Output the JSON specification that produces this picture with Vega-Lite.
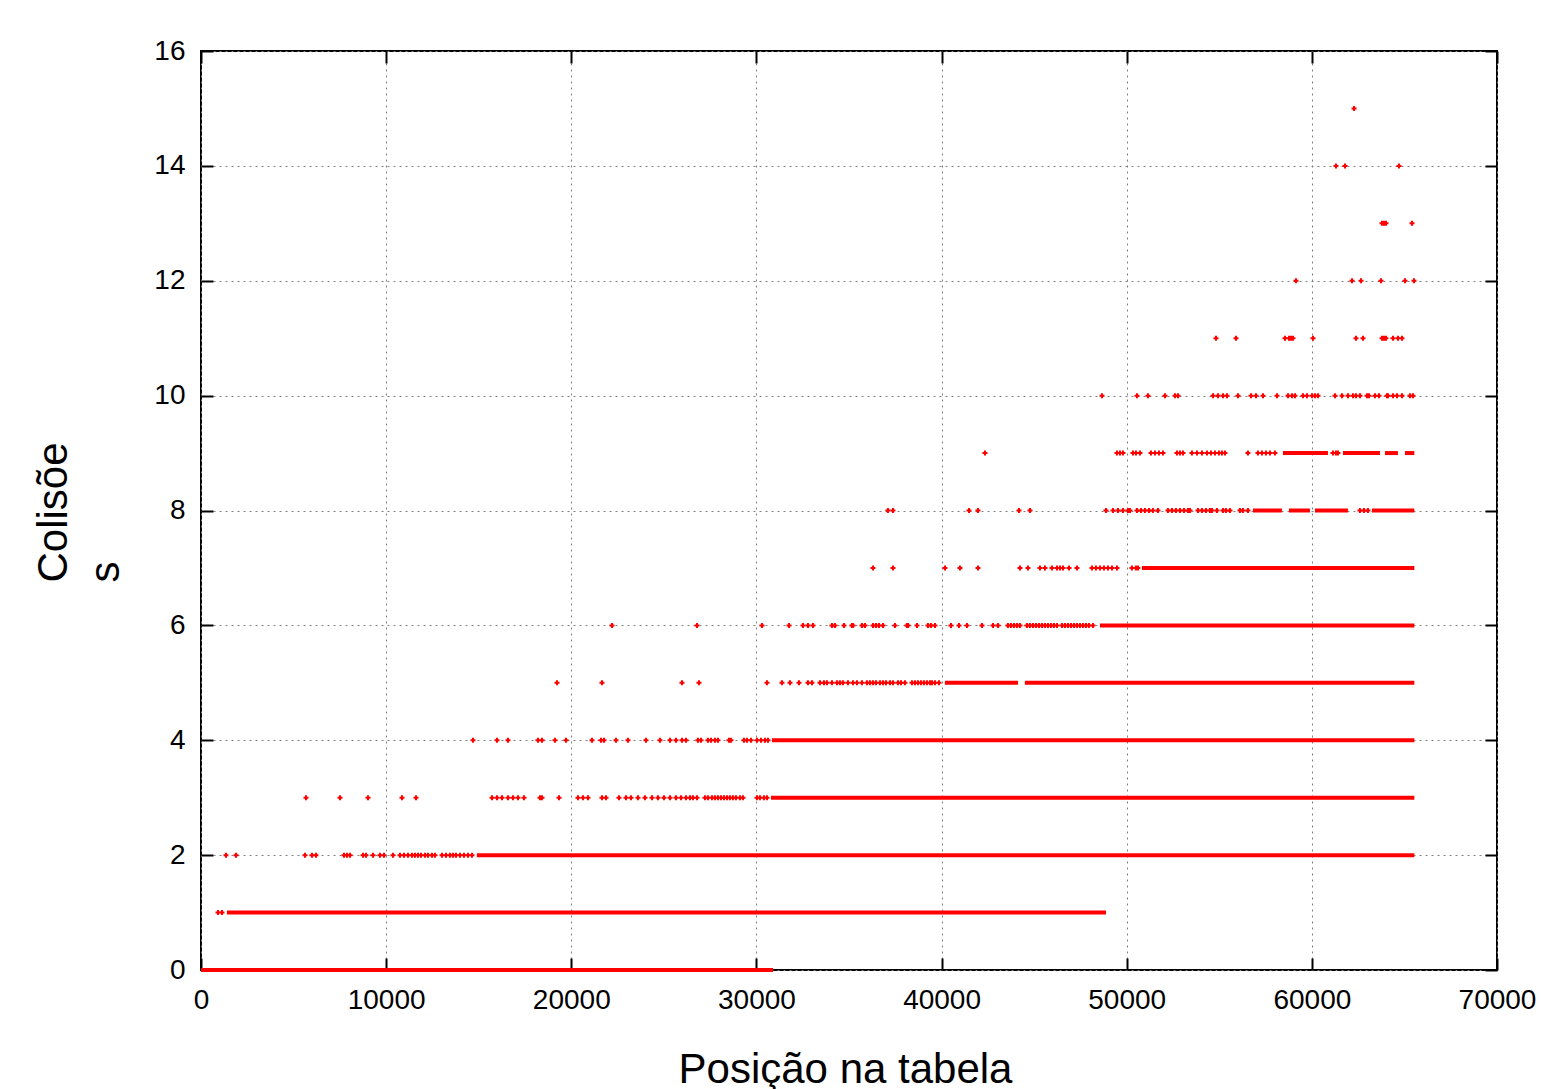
{
"$schema": "https://vega.github.io/schema/vega-lite/v6.json",
"width": 1296, "height": 919,
"autosize": {"type": "none"},
"padding": {"left": 201, "top": 51, "right": 44, "bottom": 119},
"background": "white",
"config": {
  "view": {"stroke": "black", "strokeWidth": 2},
  "font": "Liberation Sans",
  "axis": {"domain": false, "labelFont": "Liberation Sans", "labelFontSize": 28, "labelColor": "black", "labelFlush": false, "labelOverlap": false,
    "tickColor": "black", "tickWidth": 2, "tickSize": -12, "gridColor": "#7f7f7f", "gridDash": [2, 4], "gridWidth": 1,
    "titleFont": "Liberation Sans", "titleFontSize": 42, "titleFontWeight": "normal", "titleColor": "black", "labelPadding": 28}
},
"datasets": {
  "runs": [
    {"y": 0, "start": 0, "end": 30900},
    {"y": 1, "start": 1400, "end": 48880},
    {"y": 2, "start": 14900, "end": 65536},
    {"y": 3, "start": 30786, "end": 65536},
    {"y": 4, "start": 30840, "end": 65536},
    {"y": 5, "start": 40180, "end": 44130},
    {"y": 5, "start": 44500, "end": 65536},
    {"y": 6, "start": 48555, "end": 65536},
    {"y": 7, "start": 50823, "end": 65536},
    {"y": 8, "start": 56818, "end": 58385},
    {"y": 8, "start": 58763, "end": 59897},
    {"y": 8, "start": 60167, "end": 61949},
    {"y": 8, "start": 63245, "end": 65536},
    {"y": 9, "start": 58439, "end": 60869},
    {"y": 9, "start": 61679, "end": 63677},
    {"y": 9, "start": 63947, "end": 64649},
    {"y": 9, "start": 65028, "end": 65536}
  ],
  "points": [
    {"y":1,"x":918},{"y":1,"x":1134},
    {"y":2,"x":1350},{"y":2,"x":1890},{"y":2,"x":5617},{"y":2,"x":5995},{"y":2,"x":6211},{"y":2,"x":7724},{"y":2,"x":7886},{"y":2,"x":8047},{"y":2,"x":8750},{"y":2,"x":8912},{"y":2,"x":9290},{"y":2,"x":9668},{"y":2,"x":9884},{"y":2,"x":10370},{"y":2,"x":10748},{"y":2,"x":10964},{"y":2,"x":11180},{"y":2,"x":11396},{"y":2,"x":11558},{"y":2,"x":11720},{"y":2,"x":11882},{"y":2,"x":12098},{"y":2,"x":12260},{"y":2,"x":12476},{"y":2,"x":12638},{"y":2,"x":13016},{"y":2,"x":13232},{"y":2,"x":13448},{"y":2,"x":13610},{"y":2,"x":13772},{"y":2,"x":13988},{"y":2,"x":14204},{"y":2,"x":14420},{"y":2,"x":14636},
    {"y":3,"x":5671},{"y":3,"x":7507},{"y":3,"x":9020},{"y":3,"x":10856},{"y":3,"x":11612},{"y":3,"x":15717},{"y":3,"x":15987},{"y":3,"x":16257},{"y":3,"x":16581},{"y":3,"x":16851},{"y":3,"x":17121},{"y":3,"x":17445},{"y":3,"x":18309},{"y":3,"x":18417},{"y":3,"x":19336},{"y":3,"x":20362},{"y":3,"x":20632},{"y":3,"x":20902},{"y":3,"x":21658},{"y":3,"x":21874},{"y":3,"x":22576},{"y":3,"x":22954},{"y":3,"x":23224},{"y":3,"x":23602},{"y":3,"x":23980},{"y":3,"x":24359},{"y":3,"x":24683},{"y":3,"x":25007},{"y":3,"x":25331},{"y":3,"x":25655},{"y":3,"x":25925},{"y":3,"x":26195},{"y":3,"x":26411},{"y":3,"x":26573},{"y":3,"x":26789},{"y":3,"x":27221},{"y":3,"x":27383},{"y":3,"x":27599},{"y":3,"x":27761},{"y":3,"x":27923},{"y":3,"x":28085},{"y":3,"x":28247},{"y":3,"x":28409},{"y":3,"x":28571},{"y":3,"x":28733},{"y":3,"x":28895},{"y":3,"x":29111},{"y":3,"x":29273},{"y":3,"x":30030},{"y":3,"x":30192},{"y":3,"x":30408},{"y":3,"x":30570},
    {"y":4,"x":14691},{"y":4,"x":15987},{"y":4,"x":16581},{"y":4,"x":18201},{"y":4,"x":18417},{"y":4,"x":19120},{"y":4,"x":19714},{"y":4,"x":21118},{"y":4,"x":21604},{"y":4,"x":21766},{"y":4,"x":22414},{"y":4,"x":23062},{"y":4,"x":24034},{"y":4,"x":24790},{"y":4,"x":25331},{"y":4,"x":25655},{"y":4,"x":25979},{"y":4,"x":26195},{"y":4,"x":26843},{"y":4,"x":27005},{"y":4,"x":27383},{"y":4,"x":27545},{"y":4,"x":27761},{"y":4,"x":27923},{"y":4,"x":28517},{"y":4,"x":28625},{"y":4,"x":29327},{"y":4,"x":29489},{"y":4,"x":29705},{"y":4,"x":30030},{"y":4,"x":30246},{"y":4,"x":30462},{"y":4,"x":30624},
    {"y":5,"x":19228},{"y":5,"x":21658},{"y":5,"x":25979},{"y":5,"x":26897},{"y":5,"x":30570},{"y":5,"x":31380},{"y":5,"x":31812},{"y":5,"x":32298},{"y":5,"x":32784},{"y":5,"x":33000},{"y":5,"x":33432},{"y":5,"x":33648},{"y":5,"x":33810},{"y":5,"x":34080},{"y":5,"x":34350},{"y":5,"x":34512},{"y":5,"x":34674},{"y":5,"x":34944},{"y":5,"x":35214},{"y":5,"x":35430},{"y":5,"x":35700},{"y":5,"x":35970},{"y":5,"x":36133},{"y":5,"x":36295},{"y":5,"x":36457},{"y":5,"x":36673},{"y":5,"x":36835},{"y":5,"x":36997},{"y":5,"x":37213},{"y":5,"x":37375},{"y":5,"x":37645},{"y":5,"x":37807},{"y":5,"x":38023},{"y":5,"x":38401},{"y":5,"x":38563},{"y":5,"x":38725},{"y":5,"x":38887},{"y":5,"x":39049},{"y":5,"x":39211},{"y":5,"x":39373},{"y":5,"x":39481},{"y":5,"x":39643},{"y":5,"x":39859},
    {"y":6,"x":22198},{"y":6,"x":26789},{"y":6,"x":30300},{"y":6,"x":31758},{"y":6,"x":32514},{"y":6,"x":32784},{"y":6,"x":33054},{"y":6,"x":34080},{"y":6,"x":34242},{"y":6,"x":34728},{"y":6,"x":35160},{"y":6,"x":35214},{"y":6,"x":35700},{"y":6,"x":35862},{"y":6,"x":36295},{"y":6,"x":36457},{"y":6,"x":36619},{"y":6,"x":36835},{"y":6,"x":37483},{"y":6,"x":38131},{"y":6,"x":38185},{"y":6,"x":38671},{"y":6,"x":39265},{"y":6,"x":39427},{"y":6,"x":39643},{"y":6,"x":40508},{"y":6,"x":40940},{"y":6,"x":41372},{"y":6,"x":42182},{"y":6,"x":42776},{"y":6,"x":43046},{"y":6,"x":43586},{"y":6,"x":43748},{"y":6,"x":43910},{"y":6,"x":44072},{"y":6,"x":44234},{"y":6,"x":44612},{"y":6,"x":44774},{"y":6,"x":44936},{"y":6,"x":45098},{"y":6,"x":45260},{"y":6,"x":45422},{"y":6,"x":45584},{"y":6,"x":45746},{"y":6,"x":45909},{"y":6,"x":46071},{"y":6,"x":46233},{"y":6,"x":46503},{"y":6,"x":46665},{"y":6,"x":46827},{"y":6,"x":46989},{"y":6,"x":47151},{"y":6,"x":47313},{"y":6,"x":47475},{"y":6,"x":47637},{"y":6,"x":47799},{"y":6,"x":47961},{"y":6,"x":48177},
    {"y":7,"x":36295},{"y":7,"x":37375},{"y":7,"x":40183},{"y":7,"x":40994},{"y":7,"x":41966},{"y":7,"x":44234},{"y":7,"x":44666},{"y":7,"x":45314},{"y":7,"x":45584},{"y":7,"x":45962},{"y":7,"x":46233},{"y":7,"x":46395},{"y":7,"x":46557},{"y":7,"x":46881},{"y":7,"x":47313},{"y":7,"x":48123},{"y":7,"x":48339},{"y":7,"x":48555},{"y":7,"x":48771},{"y":7,"x":48987},{"y":7,"x":49203},{"y":7,"x":49473},{"y":7,"x":50283},{"y":7,"x":50499},{"y":7,"x":50607},
    {"y":8,"x":37105},{"y":8,"x":37375},{"y":8,"x":41480},{"y":8,"x":41966},{"y":8,"x":44180},{"y":8,"x":44774},{"y":8,"x":48879},{"y":8,"x":49257},{"y":8,"x":49527},{"y":8,"x":49797},{"y":8,"x":50067},{"y":8,"x":50175},{"y":8,"x":50553},{"y":8,"x":50769},{"y":8,"x":50985},{"y":8,"x":51201},{"y":8,"x":51417},{"y":8,"x":51688},{"y":8,"x":52228},{"y":8,"x":52444},{"y":8,"x":52660},{"y":8,"x":52876},{"y":8,"x":53092},{"y":8,"x":53308},{"y":8,"x":53416},{"y":8,"x":53848},{"y":8,"x":54064},{"y":8,"x":54280},{"y":8,"x":54496},{"y":8,"x":54604},{"y":8,"x":54874},{"y":8,"x":55198},{"y":8,"x":55360},{"y":8,"x":55576},{"y":8,"x":56116},{"y":8,"x":56278},{"y":8,"x":56548},{"y":8,"x":62597},{"y":8,"x":62813},{"y":8,"x":63029},
    {"y":9,"x":42344},{"y":9,"x":49473},{"y":9,"x":49635},{"y":9,"x":49797},{"y":9,"x":50337},{"y":9,"x":50499},{"y":9,"x":50715},{"y":9,"x":51310},{"y":9,"x":51526},{"y":9,"x":51742},{"y":9,"x":51958},{"y":9,"x":52714},{"y":9,"x":52876},{"y":9,"x":53038},{"y":9,"x":53524},{"y":9,"x":53794},{"y":9,"x":54064},{"y":9,"x":54334},{"y":9,"x":54550},{"y":9,"x":54766},{"y":9,"x":54982},{"y":9,"x":55144},{"y":9,"x":55306},{"y":9,"x":56548},{"y":9,"x":57088},{"y":9,"x":57304},{"y":9,"x":57520},{"y":9,"x":57736},{"y":9,"x":58006},{"y":9,"x":61139},{"y":9,"x":61301},{"y":9,"x":61409},
    {"y":10,"x":48665},{"y":10,"x":50555},{"y":10,"x":51149},{"y":10,"x":52068},{"y":10,"x":52608},{"y":10,"x":52770},{"y":10,"x":54660},{"y":10,"x":54930},{"y":10,"x":55200},{"y":10,"x":55416},{"y":10,"x":56010},{"y":10,"x":56713},{"y":10,"x":56983},{"y":10,"x":57361},{"y":10,"x":58117},{"y":10,"x":58711},{"y":10,"x":58927},{"y":10,"x":59089},{"y":10,"x":59521},{"y":10,"x":59737},{"y":10,"x":60007},{"y":10,"x":60169},{"y":10,"x":60331},{"y":10,"x":61250},{"y":10,"x":61628},{"y":10,"x":61952},{"y":10,"x":62222},{"y":10,"x":62384},{"y":10,"x":62600},{"y":10,"x":62978},{"y":10,"x":63086},{"y":10,"x":63410},{"y":10,"x":63626},{"y":10,"x":64058},{"y":10,"x":64112},{"y":10,"x":64382},{"y":10,"x":64598},{"y":10,"x":64868},{"y":10,"x":65300},{"y":10,"x":65462},
    {"y":11,"x":54822},{"y":11,"x":55902},{"y":11,"x":58549},{"y":11,"x":58765},{"y":11,"x":58873},{"y":11,"x":58981},{"y":11,"x":60061},{"y":11,"x":62384},{"y":11,"x":62762},{"y":11,"x":63788},{"y":11,"x":63896},{"y":11,"x":64004},{"y":11,"x":64382},{"y":11,"x":64652},{"y":11,"x":64868},
    {"y":12,"x":59143},{"y":12,"x":62168},{"y":12,"x":62654},{"y":12,"x":63734},{"y":12,"x":65030},{"y":12,"x":65516},
    {"y":13,"x":63788},{"y":13,"x":63896},{"y":13,"x":64004},{"y":13,"x":65409},
    {"y":14,"x":61304},{"y":14,"x":61790},{"y":14,"x":64706},
    {"y":15,"x":62280}
  ]
},
"layer": [
  {
    "data": {"name": "runs"},
    "mark": {"type": "rule", "color": "#ff0000", "strokeWidth": 4},
    "encoding": {
      "x": {"field": "start", "type": "quantitative",
        "scale": {"domain": [0, 70000], "nice": false, "zero": false},
        "axis": {"orient": "bottom", "values": [0,10000,20000,30000,40000,50000,60000,70000], "format": "d",
          "title": "Posição na tabela", "titleX": 644, "titleY": 112, "titleBaseline": "alphabetic", "titleAlign": "center"}},
      "x2": {"field": "end"},
      "y": {"field": "y", "type": "quantitative",
        "scale": {"domain": [0, 16], "nice": false},
        "axis": {"orient": "left", "values": [0,2,4,6,8,10,12,14,16], "format": "d",
          "title": ["Colisõe", "s"], "titleAngle": -90, "titleAlign": "left", "titleBaseline": "alphabetic",
          "titleX": -135, "titleY": 531, "titleLineHeight": 52}}
    }
  },
  {
    "data": {"name": "points"},
    "mark": {"type": "point", "shape": "cross", "filled": true, "color": "#ff0000", "size": 25, "opacity": 1},
    "encoding": {
      "x": {"field": "x", "type": "quantitative",
        "axis": {"orient": "top", "values": [0,10000,20000,30000,40000,50000,60000,70000], "labels": false, "grid": false, "title": null}},
      "y": {"field": "y", "type": "quantitative",
        "axis": {"orient": "right", "values": [0,2,4,6,8,10,12,14,16], "labels": false, "grid": false, "title": null}}
    }
  }
],
"resolve": {"axis": {"x": "independent", "y": "independent"}}
}
